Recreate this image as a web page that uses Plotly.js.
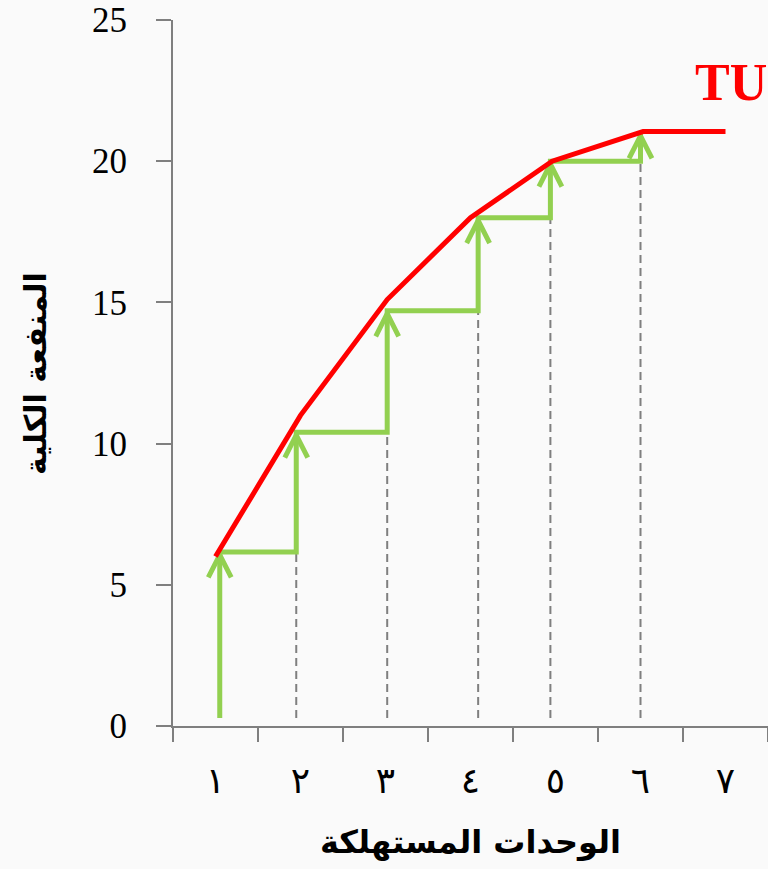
<!DOCTYPE html>
<html>
<head>
<meta charset="utf-8">
<script src="https://cdn.plot.ly/plotly-3.0.1.min.js"></script>
<style>html,body{margin:0;padding:0;background:#fafafa;}#chart{width:768px;height:869px;}</style>
</head>
<body>
<div id="chart"></div>
<script>
// Category labels (units consumed) and tick values
const unitPositions = [1, 2, 3, 4, 5, 6, 7];
const unitLabels = ['١', '٢', '٣', '٤', '٥', '٦', '٧'];
const yTickValues = [0, 5, 10, 15, 20, 25];
const yTickLabels = ['0', '5', '10', '15', '20', '25'];

// Total utility curve (red)
const tuX = [1, 2, 3.02, 4, 4.96, 6.03, 7];
const tuY = [6, 11, 15.1, 18, 20, 21.05, 21.05];

// Marginal-utility staircase (green arrows)
const stepX = [1.05, 1.95, 3.02, 4.09, 4.94, 6.0];
const stepY = [6.16, 10.4, 14.7, 18.0, 20.0, 21.0];
const stepBase = 0.28;

const GREEN = '#92D050';
const RED = '#FF0000';
const GRAY = '#7f7f7f';

// arrowhead geometry (style): half-width and height in axis units
const HEAD_DX = 0.135, HEAD_DY = 0.8, HEAD_DROP = 0.1;

// staircase path
const gx = [], gy = [];
for (let i = 0; i < stepX.length; i++) {
  gx.push(stepX[i]); gy.push(i === 0 ? stepBase : stepY[i - 1]);
  gx.push(stepX[i]); gy.push(stepY[i]);
  if (i + 1 < stepX.length) { gx.push(stepX[i + 1]); gy.push(stepY[i]); }
}
// chevrons
const hx = [], hy = [];
for (let i = 0; i < stepX.length; i++) {
  const tipY = stepY[i] - HEAD_DROP;
  hx.push(stepX[i] - HEAD_DX, stepX[i], stepX[i] + HEAD_DX, null);
  hy.push(tipY - HEAD_DY, tipY, tipY - HEAD_DY, null);
}

const traces = [];
// dashed guides
for (let i = 1; i < stepX.length; i++) {
  traces.push({
    x: [stepX[i], stepX[i]], y: [stepBase, stepY[i - 1]],
    mode: 'lines', line: {color: GRAY, width: 2, dash: '8px,5px'},
    hoverinfo: 'skip', showlegend: false
  });
}
traces.push({x: gx, y: gy, mode: 'lines', line: {color: GREEN, width: 5}, showlegend: false, hoverinfo: 'skip'});
traces.push({x: hx, y: hy, mode: 'lines', line: {color: GREEN, width: 5}, connectgaps: false, showlegend: false, hoverinfo: 'skip'});
traces.push({x: tuX, y: tuY, mode: 'lines', line: {color: RED, width: 5}, showlegend: false});

const annotations = [{
  x: 7.06, y: 22.8, xref: 'x', yref: 'y', text: '<b>TU</b>', showarrow: false,
  font: {family: 'Liberation Serif', size: 52, color: RED}, xanchor: 'center', yanchor: 'middle'
}, {
  x: -0.232, y: 0.5, xref: 'paper', yref: 'paper', text: '<b>المنفعة الكلية</b>', showarrow: false,
  textangle: -90, font: {family: 'DejaVu Sans', size: 30, color: '#000'}, xanchor: 'center', yanchor: 'middle'
}];

const layout = {
  width: 768, height: 869,
  margin: {l: 173, r: 0, t: 20, b: 143},
  paper_bgcolor: '#fafafa', plot_bgcolor: '#fafafa',
  showlegend: false,
  xaxis: {
    range: [0.5, 7.5], tickmode: 'array', tickvals: unitPositions, ticktext: unitLabels,
    ticks: '', showgrid: false, zeroline: false, showline: true, linecolor: GRAY, linewidth: 2,
    tickfont: {family: 'DejaVu Sans', size: 36, color: '#000'}, ticklabelstandoff: 22,
    minor: {tickmode: 'linear', tick0: 0.5, dtick: 1, ticks: 'outside', ticklen: 14, tickwidth: 2, tickcolor: GRAY, showgrid: false},
    title: {text: '<b>الوحدات المستهلكة</b>', font: {family: 'DejaVu Sans', size: 32, color: '#000'}, standoff: 30}
  },
  yaxis: {
    range: [0, 25], tickmode: 'array', tickvals: yTickValues, ticktext: yTickLabels,
    ticks: 'outside', ticklen: 15, tickwidth: 2, tickcolor: GRAY,
    showgrid: false, zeroline: false, showline: true, linecolor: GRAY, linewidth: 2,
    tickfont: {family: 'Liberation Serif', size: 35, color: '#000'}, ticklabelstandoff: 22
  },
  annotations: annotations
};

Plotly.newPlot('chart', traces, layout, {displayModeBar: false, staticPlot: true});
</script>
</body>
</html>
